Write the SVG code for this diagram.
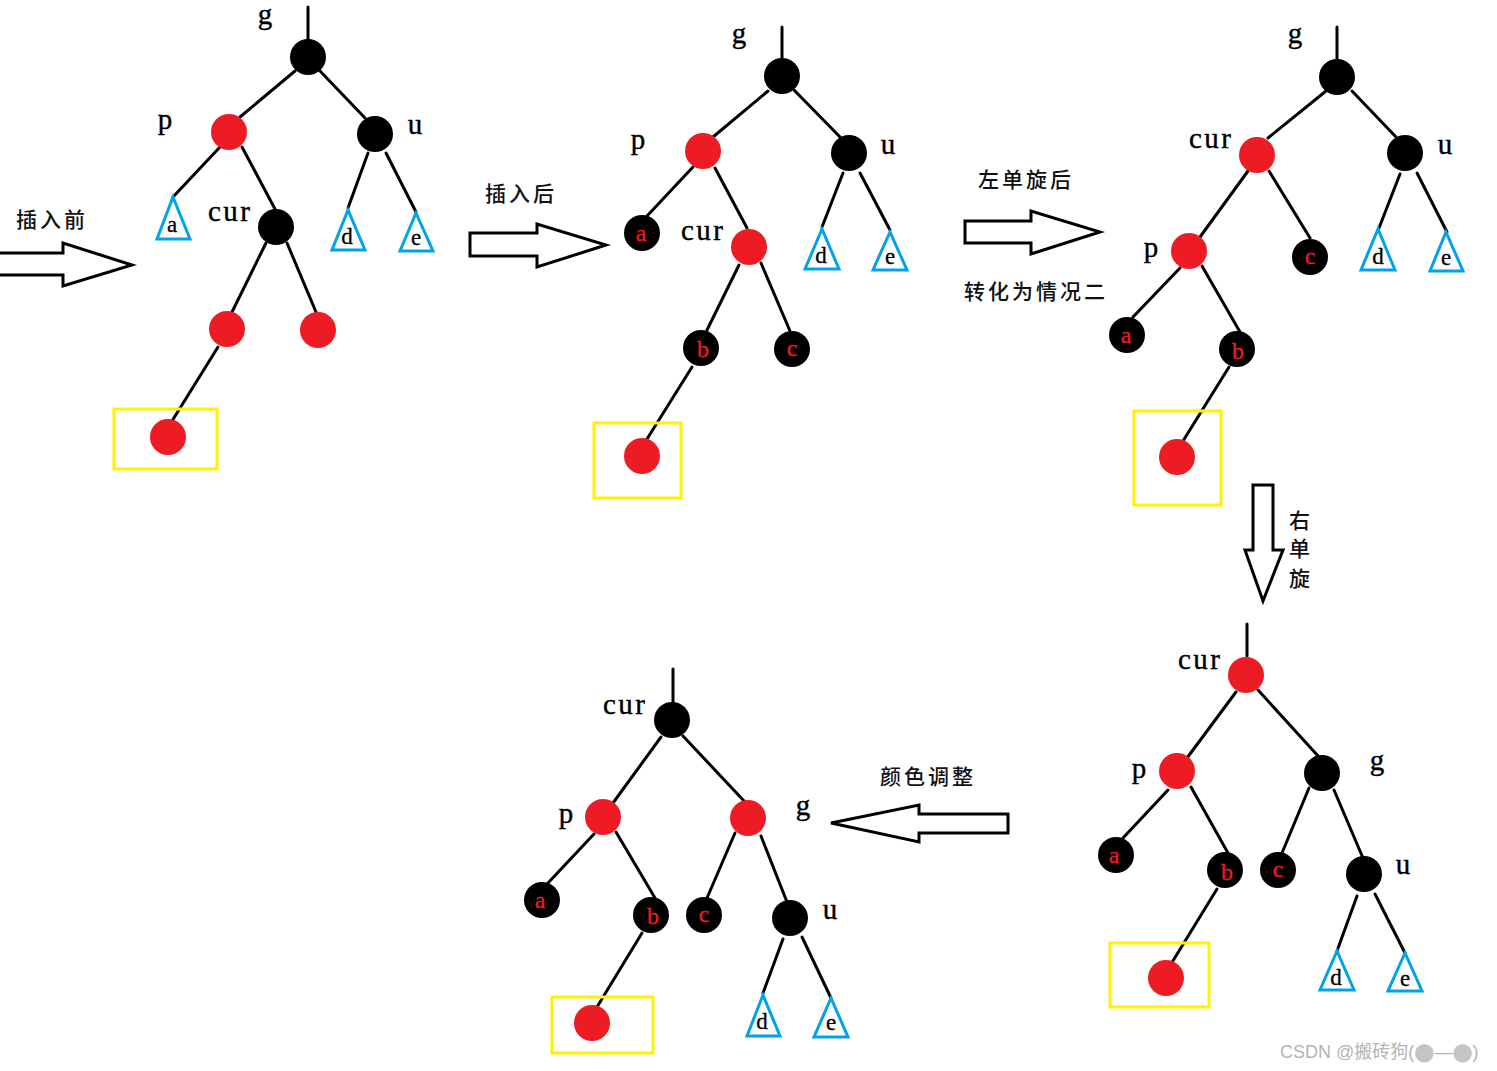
<svg xmlns="http://www.w3.org/2000/svg" width="1497" height="1071" viewBox="0 0 1497 1071">
<style>
.e{stroke:#000;stroke-width:3;fill:none;stroke-linecap:round}
.r{fill:#ed1c24}
.k{fill:#000}
.t{fill:none;stroke:#00a2e8;stroke-width:3}
.y{fill:none;stroke:#fff200;stroke-width:3}
.ar{fill:#fff;stroke:#000;stroke-width:3;stroke-linejoin:miter}
.lb{font-family:"Liberation Serif",serif;font-size:29px;fill:#000;stroke:#000;stroke-width:0.4;text-anchor:middle}
.tl{font-family:"Liberation Serif",serif;font-size:23px;fill:#000;stroke:#000;stroke-width:0.3;text-anchor:middle}
.rl{font-family:"Liberation Serif",serif;font-size:24px;fill:#ed1c24;stroke:#ed1c24;stroke-width:0.3;text-anchor:middle}
.cn{font-family:"Noto Sans CJK SC",sans-serif;font-size:21px;font-weight:500;fill:#111;text-anchor:middle;letter-spacing:3px}
.wm{font-family:"Liberation Sans","Noto Sans CJK SC",sans-serif;font-size:18px;fill:#b4b4b4}
.wc{font-family:"DejaVu Sans",sans-serif;font-size:18px;fill:#c4c4c4}
</style>
<rect width="1497" height="1071" fill="#fff"/>

<g id="connectors">
<!-- tree 1 -->
<line class="e" x1="308" y1="7" x2="308" y2="40"/>
<line class="e" x1="295" y1="71" x2="240" y2="117"/>
<line class="e" x1="320" y1="71" x2="365" y2="118"/>
<line class="e" x1="220" y1="147" x2="173" y2="197"/>
<line class="e" x1="242" y1="147" x2="275" y2="209"/>
<line class="e" x1="368" y1="153" x2="348" y2="208"/>
<line class="e" x1="386" y1="153" x2="416" y2="212"/>
<line class="e" x1="266" y1="243" x2="232" y2="312"/>
<line class="e" x1="287" y1="243" x2="316" y2="312"/>
<line class="e" x1="218" y1="347" x2="172" y2="421"/>
<!-- tree 2 -->
<line class="e" x1="782" y1="27" x2="782" y2="60"/>
<line class="e" x1="768" y1="91" x2="713" y2="137"/>
<line class="e" x1="794" y1="90" x2="840" y2="137"/>
<line class="e" x1="693" y1="167" x2="647" y2="216"/>
<line class="e" x1="715" y1="168" x2="747" y2="228"/>
<line class="e" x1="843" y1="173" x2="822" y2="227"/>
<line class="e" x1="860" y1="173" x2="890" y2="230"/>
<line class="e" x1="739" y1="265" x2="707" y2="330"/>
<line class="e" x1="761" y1="263" x2="790" y2="331"/>
<line class="e" x1="692" y1="367" x2="647" y2="439"/>
<!-- tree 3 -->
<line class="e" x1="1337" y1="27" x2="1337" y2="60"/>
<line class="e" x1="1326" y1="91" x2="1268" y2="138"/>
<line class="e" x1="1352" y1="91" x2="1396" y2="137"/>
<line class="e" x1="1248" y1="171" x2="1200" y2="237"/>
<line class="e" x1="1269" y1="171" x2="1310" y2="238"/>
<line class="e" x1="1400" y1="174" x2="1379" y2="228"/>
<line class="e" x1="1417" y1="173" x2="1447" y2="232"/>
<line class="e" x1="1180" y1="268" x2="1133" y2="317"/>
<line class="e" x1="1202" y1="266" x2="1240" y2="332"/>
<line class="e" x1="1229" y1="367" x2="1183" y2="441"/>
<!-- tree 4 -->
<line class="e" x1="1247" y1="624" x2="1247" y2="656"/>
<line class="e" x1="1236" y1="692" x2="1187" y2="758"/>
<line class="e" x1="1258" y1="690" x2="1319" y2="757"/>
<line class="e" x1="1168" y1="790" x2="1123" y2="838"/>
<line class="e" x1="1191" y1="787" x2="1228" y2="853"/>
<line class="e" x1="1309" y1="788" x2="1282" y2="853"/>
<line class="e" x1="1334" y1="790" x2="1363" y2="858"/>
<line class="e" x1="1217" y1="889" x2="1171" y2="964"/>
<line class="e" x1="1357" y1="896" x2="1337" y2="951"/>
<line class="e" x1="1375" y1="894" x2="1405" y2="953"/>
<!-- tree 5 -->
<line class="e" x1="673" y1="669" x2="673" y2="702"/>
<line class="e" x1="661" y1="737" x2="613" y2="803"/>
<line class="e" x1="683" y1="736" x2="745" y2="802"/>
<line class="e" x1="594" y1="834" x2="548" y2="883"/>
<line class="e" x1="616" y1="832" x2="655" y2="898"/>
<line class="e" x1="735" y1="833" x2="707" y2="898"/>
<line class="e" x1="761" y1="836" x2="787" y2="902"/>
<line class="e" x1="642" y1="933" x2="597" y2="1007"/>
<line class="e" x1="783" y1="939" x2="763" y2="993"/>
<line class="e" x1="802" y1="937" x2="831" y2="998"/>
<!-- big arrows -->
<polygon class="ar" points="-5,253 63,253 63,243 132,265 63,286 63,275 -5,275"/>
<polygon class="ar" points="470,233 537,233 537,224 606,245 537,267 537,256 470,256"/>
<polygon class="ar" points="965,221 1031,221 1031,211 1100,232 1031,254 1031,243 965,243"/>
<polygon class="ar" points="1253,485 1273,485 1273,550 1283,550 1263,601 1245,550 1253,550"/>
<polygon class="ar" points="831,823 919,805 919,814 1008,814 1008,833 919,833 919,842"/>
</g>

<!-- tree 1 -->
<g id="t1-g"><circle class="k" cx="308" cy="57" r="18"/><text class="lb" x="265" y="24">g</text></g>
<g id="t1-p"><circle class="r" cx="229" cy="132" r="18"/><text class="lb" x="165" y="129">p</text></g>
<g id="t1-u"><circle class="k" cx="375" cy="134" r="18"/><text class="lb" x="415" y="134">u</text></g>
<g id="t1-a"><polygon class="t" points="173,197 157,239 190,239"/><text class="tl" x="172" y="232">a</text></g>
<g id="t1-cur"><circle class="k" cx="276" cy="227" r="18"/><text class="lb" x="229" y="221" textLength="42">cur</text></g>
<g id="t1-d"><polygon class="t" points="348,210 332,250 365,250"/><text class="tl" x="347" y="244">d</text></g>
<g id="t1-e"><polygon class="t" points="416,213 400,251 433,251"/><text class="tl" x="416" y="245">e</text></g>
<g id="t1-l"><circle class="r" cx="227" cy="329" r="18"/></g>
<g id="t1-r"><circle class="r" cx="318" cy="330" r="18"/></g>
<g id="t1-new"><rect class="y" x="114" y="409" width="103" height="60"/><circle class="r" cx="168" cy="437" r="18"/></g>
<g id="lbl1"><text class="cn" x="52" y="227">插入前</text></g>

<!-- tree 2 -->
<g id="t2-g"><circle class="k" cx="782" cy="76" r="18"/><text class="lb" x="739" y="43">g</text></g>
<g id="t2-p"><circle class="r" cx="703" cy="151" r="18"/><text class="lb" x="638" y="149">p</text></g>
<g id="t2-u"><circle class="k" cx="849" cy="153" r="18"/><text class="lb" x="888" y="154">u</text></g>
<g id="t2-a"><circle class="k" cx="642" cy="233" r="18"/><text class="rl" x="641" y="241">a</text></g>
<g id="t2-cur"><circle class="r" cx="749" cy="247" r="18"/><text class="lb" x="702" y="240" textLength="42">cur</text></g>
<g id="t2-d"><polygon class="t" points="822,229 805,269 839,269"/><text class="tl" x="821" y="263">d</text></g>
<g id="t2-e"><polygon class="t" points="890,232 873,270 907,270"/><text class="tl" x="890" y="264">e</text></g>
<g id="t2-b"><circle class="k" cx="701" cy="348" r="18"/><text class="rl" x="703" y="357">b</text></g>
<g id="t2-c"><circle class="k" cx="792" cy="349" r="18"/><text class="rl" x="792" y="356">c</text></g>
<g id="t2-new"><rect class="y" x="594" y="423" width="87" height="75"/><circle class="r" cx="642" cy="456" r="18"/></g>
<g id="lbl2"><text class="cn" x="521" y="201">插入后</text></g>

<!-- tree 3 -->
<g id="t3-g"><circle class="k" cx="1337" cy="77" r="18"/><text class="lb" x="1295" y="43">g</text></g>
<g id="t3-cur"><circle class="r" cx="1257" cy="155" r="18"/><text class="lb" x="1210" y="148" textLength="42">cur</text></g>
<g id="t3-u"><circle class="k" cx="1405" cy="153" r="18"/><text class="lb" x="1445" y="154">u</text></g>
<g id="t3-p"><circle class="r" cx="1189" cy="251" r="18"/><text class="lb" x="1151" y="257">p</text></g>
<g id="t3-c"><circle class="k" cx="1310" cy="257" r="18"/><text class="rl" x="1310" y="264">c</text></g>
<g id="t3-d"><polygon class="t" points="1378,229 1361,270 1395,270"/><text class="tl" x="1378" y="264">d</text></g>
<g id="t3-e"><polygon class="t" points="1446,232 1430,271 1463,271"/><text class="tl" x="1446" y="265">e</text></g>
<g id="t3-a"><circle class="k" cx="1127" cy="335" r="18"/><text class="rl" x="1126" y="343">a</text></g>
<g id="t3-b"><circle class="k" cx="1237" cy="349" r="18"/><text class="rl" x="1238" y="359">b</text></g>
<g id="t3-new"><rect class="y" x="1134" y="411" width="87" height="94"/><circle class="r" cx="1177" cy="457" r="18"/></g>
<g id="lbl3"><text class="cn" x="1026" y="187">左单旋后</text><text class="cn" x="1036" y="299">转化为情况二</text></g>
<g id="lbl4"><text class="cn" x="1301" y="528">右</text><text class="cn" x="1301" y="556">单</text><text class="cn" x="1301" y="586">旋</text></g>

<!-- tree 4 -->
<g id="t4-cur"><circle class="r" cx="1246" cy="675" r="18"/><text class="lb" x="1199" y="669" textLength="42">cur</text></g>
<g id="t4-p"><circle class="r" cx="1177" cy="771" r="18"/><text class="lb" x="1139" y="778">p</text></g>
<g id="t4-g"><circle class="k" cx="1322" cy="773" r="18"/><text class="lb" x="1377" y="770">g</text></g>
<g id="t4-a"><circle class="k" cx="1116" cy="855" r="18"/><text class="rl" x="1114" y="863">a</text></g>
<g id="t4-b"><circle class="k" cx="1225" cy="870" r="18"/><text class="rl" x="1227" y="880">b</text></g>
<g id="t4-c"><circle class="k" cx="1278" cy="870" r="18"/><text class="rl" x="1278" y="877">c</text></g>
<g id="t4-u"><circle class="k" cx="1364" cy="874" r="18"/><text class="lb" x="1403" y="874">u</text></g>
<g id="t4-d"><polygon class="t" points="1337,951 1320,990 1354,990"/><text class="tl" x="1336" y="985">d</text></g>
<g id="t4-e"><polygon class="t" points="1405,953 1388,991 1422,991"/><text class="tl" x="1405" y="986">e</text></g>
<g id="t4-new"><rect class="y" x="1110" y="943" width="99" height="64"/><circle class="r" cx="1166" cy="978" r="18"/></g>

<!-- tree 5 -->
<g id="t5-cur"><circle class="k" cx="672" cy="720" r="18"/><text class="lb" x="624" y="714" textLength="42">cur</text></g>
<g id="t5-p"><circle class="r" cx="603" cy="817" r="18"/><text class="lb" x="566" y="823">p</text></g>
<g id="t5-g"><circle class="r" cx="748" cy="818" r="18"/><text class="lb" x="803" y="815">g</text></g>
<g id="t5-a"><circle class="k" cx="542" cy="900" r="18"/><text class="rl" x="540" y="908">a</text></g>
<g id="t5-b"><circle class="k" cx="651" cy="915" r="18"/><text class="rl" x="653" y="924">b</text></g>
<g id="t5-c"><circle class="k" cx="704" cy="915" r="18"/><text class="rl" x="704" y="922">c</text></g>
<g id="t5-u"><circle class="k" cx="790" cy="918" r="18"/><text class="lb" x="830" y="919">u</text></g>
<g id="t5-d"><polygon class="t" points="763,995 747,1036 780,1036"/><text class="tl" x="762" y="1029">d</text></g>
<g id="t5-e"><polygon class="t" points="831,998 814,1037 848,1037"/><text class="tl" x="831" y="1030">e</text></g>
<g id="t5-new"><rect class="y" x="552" y="997" width="101" height="56"/><circle class="r" cx="592" cy="1023" r="18"/></g>
<g id="lbl5"><text class="cn" x="928" y="784">颜色调整</text></g>

<g id="watermark"><text class="wm" x="1280" y="1058">CSDN @搬砖狗(<tspan class="wc">⬤</tspan>—<tspan class="wc">⬤</tspan>)</text></g>
</svg>
